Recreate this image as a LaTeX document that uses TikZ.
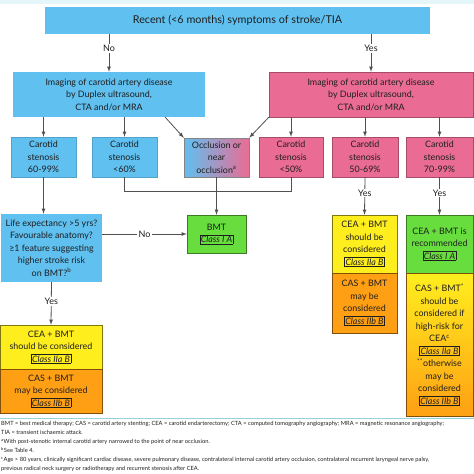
\documentclass[tikz,border=0pt]{standalone}
\usepackage{fontspec}
\setmainfont{Lato}
\usepackage{xcolor}
\usepackage{tikz}

\definecolor{skyfill}{RGB}{96,192,240}
\definecolor{pinkfill}{RGB}{234,108,148}
\definecolor{greenfill}{RGB}{104,222,62}
\definecolor{yellowfill}{RGB}{255,238,30}
\definecolor{orangefill}{RGB}{255,160,20}
\definecolor{inkgray}{RGB}{30,30,30}
\definecolor{linegray}{RGB}{80,80,80}
\definecolor{notecyan}{RGB}{150,210,222}
\definecolor{topcyan}{RGB}{228,246,250}
\newcommand{\classtag}[1]{{\setlength{\fboxsep}{0.8pt}\setlength{\fboxrule}{0.5pt}\fbox{\itshape #1}}}

\begin{document}
\begin{tikzpicture}[x=1pt,y=-1pt,
        box/.style={align=center,inner sep=0pt,text=inkgray,font=\fontsize{8.9}{12.5}\selectfont},
        bluebox/.style={box,fill=skyfill,draw=skyfill!85!black,line width=0.4pt},
        pinkbox/.style={box,fill=pinkfill,draw=pinkfill!70!black,line width=0.5pt},
        greenbox/.style={box,fill=greenfill,draw=greenfill!55!black,line width=0.5pt},
        yellowbox/.style={box,fill=yellowfill,draw=yellowfill!50!black,line width=0.5pt},
        orangebox/.style={box,fill=orangefill,draw=orangefill!50!black,line width=0.5pt},
        arr/.style={->,>=latex,draw=linegray,line width=0.8pt},
        link/.style={draw=linegray,line width=0.8pt},
        lbl/.style={fill=white,inner sep=1.2pt,text=inkgray,font=\fontsize{9}{10}\selectfont}]
        \useasboundingbox (0,0) rectangle (474,474);
        \fill [topcyan] (0,0) rectangle (474,4);

        % first question
        \node [box,fill=skyfill,minimum width=385pt,minimum height=27pt,font=\fontsize{10.8}{12}\selectfont] (recent) at (237.5,20.5)
            {Recent (<6 months) symptoms of stroke/TIA};

        % imaging
        \node [bluebox,draw=none,minimum width=192pt,minimum height=45pt] (imgno) at (109,94.5)
            {Imaging of carotid artery disease\\by Duplex ultrasound,\\CTA and/or MRA};
        \node [pinkbox,minimum width=204pt,minimum height=45pt] (imgyes) at (371,94.5)
            {Imaging of carotid artery disease\\by Duplex ultrasound,\\CTA and/or MRA};

        % stenosis grades
        \node [bluebox,minimum width=65pt,minimum height=40pt] (stenA) at (43.5,157) {Carotid\\stenosis\\60-99\%};
        \node [bluebox,minimum width=65pt,minimum height=40pt] (stenB) at (124.5,157) {Carotid\\stenosis\\<60\%};
        \node [box,left color=skyfill,right color=pinkfill,draw=linegray!70,line width=0.5pt,
            minimum width=65pt,minimum height=39pt] (occl) at (216.5,157.5)
            {Occlusion or\\near\\occlusion\textsuperscript{a}};
        \node [pinkbox,minimum width=64pt,minimum height=40pt] (stenC) at (291,157) {Carotid\\stenosis\\<50\%};
        \node [pinkbox,minimum width=66pt,minimum height=40pt] (stenD) at (365,157) {Carotid\\stenosis\\50-69\%};
        \node [pinkbox,minimum width=67pt,minimum height=40pt] (stenE) at (439.5,157) {Carotid\\stenosis\\70-99\%};

        % treatment boxes
        \node [greenbox,minimum width=59pt,minimum height=38pt] (bmt) at (216.5,234) {BMT\\\classtag{Class I A}};
        \node [bluebox,draw=none,minimum width=101pt,minimum height=68pt] (life) at (51.5,248)
            {Life expectancy >5 yrs?\\Favourable anatomy?\\≥1 feature suggesting\\higher stroke risk\\on BMT?\textsuperscript{b}};
        \node [yellowbox,minimum width=102pt,minimum height=44pt] (ceaA) at (51,347)
            {CEA + BMT\\should be considered\\\classtag{Class IIa B}};
        \node [orangebox,minimum width=102pt,minimum height=44pt] (casA) at (51,391)
            {CAS + BMT\\may be considered\\\classtag{Class IIb B}};
        \node [yellowbox,minimum width=65pt,minimum height=58pt] (ceaD) at (364.5,244)
            {CEA + BMT\\should be\\considered\\\classtag{Class IIa B}};
        \node [orangebox,minimum width=65pt,minimum height=60pt] (casD) at (364.5,303)
            {CAS + BMT\\may be\\considered\\\classtag{Class IIb B}};
        \node [greenbox,minimum width=67pt,minimum height=58pt] (ceaE) at (439.5,244)
            {CEA + BMT is\\recommended\\\classtag{Class I A}};
        \node [box,top color=yellowfill,bottom color=orangefill,draw=orangefill!50!black,line width=0.5pt,
            minimum width=67pt,minimum height=143pt] (casE) at (439.5,344.5)
            {CAS + BMT\textsuperscript{*}\\should be\\considered if\\high-risk for\\CEA\textsuperscript{c}\\\classtag{Class IIa B}\\
             \textsuperscript{**}otherwise\\may be\\considered\\\classtag{Class IIb B}};

        % connectors
        \draw [arr] (recent.south -| imgno.north) -- node [lbl,pos=0.38] {No} (imgno.north);
        \draw [arr] (recent.south -| imgyes.north) -- node [lbl,pos=0.38] {Yes} (imgyes.north);
        \draw [arr] (imgno.south -| stenA.north) -- (stenA.north);
        \draw [arr] (imgno.south -| stenB.north) -- (stenB.north);
        \draw [arr] (imgno.-22.6) -- (occl.north west);
        \draw [arr] (imgyes.south west) -- (occl.north east);
        \draw [arr] (imgyes.south -| stenC.north) -- (stenC.north);
        \draw [arr] (imgyes.south -| stenD.north) -- (stenD.north);
        \draw [arr] (imgyes.south -| stenE.north) -- (stenE.north);
        \draw [link] (stenB.south) -- ++(0,14) -| (stenC.south);
        \draw [arr] (occl.south) -- (bmt.north);
        \draw [arr] (stenA.south) -- (stenA.south |- life.north);
        \draw [arr] (life.east |- bmt.west) -- node [lbl] {No} (bmt.west);
        \draw [arr] (life.south) -- node [lbl,pos=0.45] {Yes} (ceaA.north);
        \draw [arr] (stenD.south) -- node [lbl,pos=0.42] {Yes} (ceaD.north);
        \draw [arr] (stenE.south) -- node [lbl,pos=0.42] {Yes} (ceaE.north);

        % footnotes
        \draw [notecyan,line width=1.6pt] (0,418.5) -- (474,418.5);
        \node [anchor=north west,align=left,inner sep=0pt,text=inkgray,font=\fontsize{5.75}{9}\selectfont] (notes) at (1,421.5)
            {BMT = best medical therapy; CAS = carotid artery stenting; CEA = carotid endarterectomy; CTA = computed tomography angiography; MRA = magnetic resonance angiography;\\
             TIA = transient ischaemic attack.\\
             \textsuperscript{a}With post-stenotic internal carotid artery narrowed to the point of near occlusion.\\
             \textsuperscript{b}See Table 4.\\
             \textsuperscript{c}Age > 80 years, clinically significant cardiac disease, severe pulmonary disease, contralateral internal carotid artery occlusion, contralateral recurrent laryngeal nerve palsy,\\
             previous radical neck surgery or radiotherapy and recurrent stenosis after CEA.};
    \end{tikzpicture}
\end{document}
